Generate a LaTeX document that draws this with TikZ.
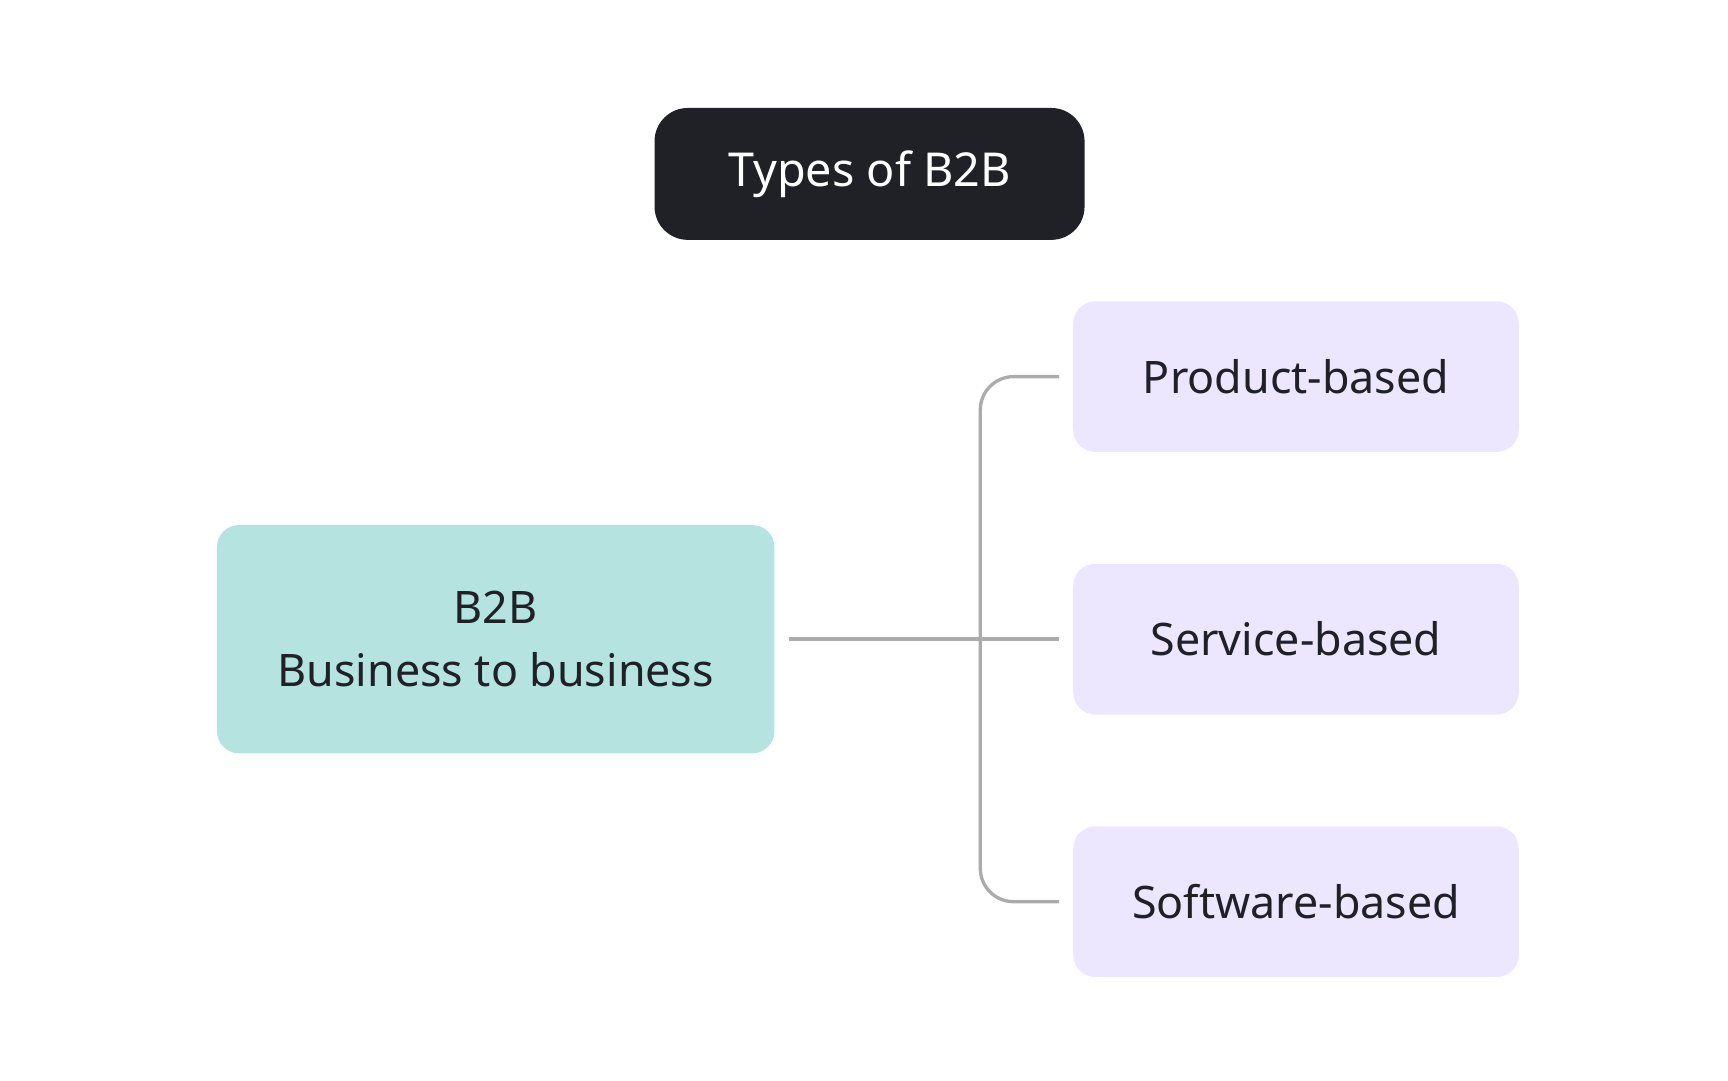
\documentclass[tikz,border=0pt]{standalone}
\usepackage{fontspec}
\setmainfont{Noto Sans}
\usetikzlibrary{positioning}
\definecolor{titlebg}{HTML}{202127}
\definecolor{mainbg}{HTML}{B5E3E0}
\definecolor{typebg}{HTML}{ECE7FE}
\definecolor{ink}{HTML}{202127}
\definecolor{wire}{HTML}{ABABAB}
\begin{document}
\begin{tikzpicture}[x=0.01cm,y=-0.01cm]

	% Styles
	\tikzstyle{title} = [fill=titlebg,text=white,rounded corners=0.3cm,minimum width=3.88cm,minimum height=1.19cm,font=\fontsize{12}{14}\selectfont\bfseries]
	\tikzstyle{main} = [fill=mainbg,text=ink,rounded corners=0.2cm,minimum width=5.03cm,minimum height=2.06cm,align=center]
	\tikzstyle{type} = [fill=typebg,text=ink,rounded corners=0.2cm,minimum width=4.02cm,minimum height=1.36cm,font=\fontsize{11.5}{14}\selectfont\bfseries]
	\tikzstyle{wire} = [draw=wire,line width=0.85pt,rounded corners=0.3cm]

	\useasboundingbox (0,0) rectangle (1560,975);

	% Boxen
	\node at (785,157) [title] (title) {Types of B2B};
	\node at (447.5,577) [main] (b2b) {{\fontsize{11.5}{14}\selectfont\bfseries B2B}\\[0.15cm]{\fontsize{11.5}{14}\selectfont Business to business}};
	\node at (1170,340) [type] (prod) {Product-based};
	\node at (1170,577) [type] (serv) {Service-based};
	\node at (1170,814) [type] (soft) {Software-based};

	% Verbindungen
	\coordinate (start) at ([xshift=0.12cm]b2b.east);
	\coordinate (ptip) at ([xshift=-0.12cm]prod.west);
	\coordinate (stip) at ([xshift=-0.12cm]serv.west);
	\coordinate (ftip) at ([xshift=-0.12cm]soft.west);
	\draw[wire] (start) -- (stip);
	\draw[wire] (ptip) -| (885,577) |- (ftip);

\end{tikzpicture}
\end{document}
